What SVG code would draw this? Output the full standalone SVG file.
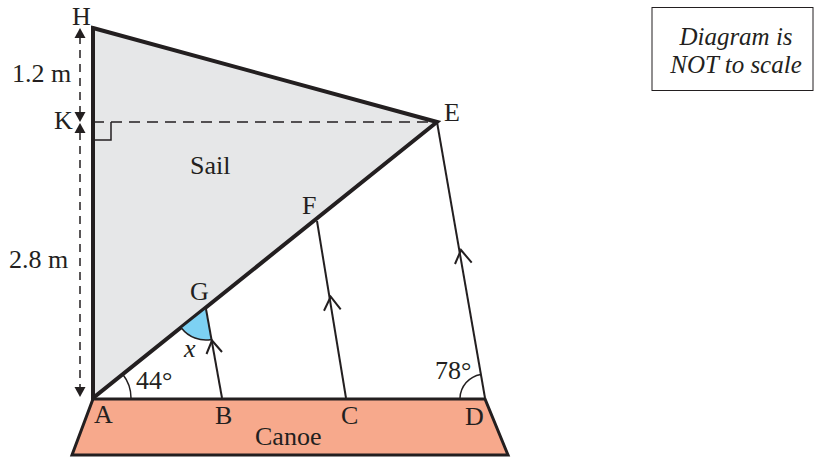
<svg xmlns="http://www.w3.org/2000/svg" width="814" height="457" viewBox="0 0 814 457">
<style>
  text { font-family: "Liberation Serif", "Times New Roman", serif; font-size: 26px; fill: #231F20; }
  .it { font-style: italic; }
  .note { font-style: italic; font-size: 25px; text-anchor: middle; }
  .thick { stroke: #231F20; stroke-width: 4; fill: none; stroke-linejoin: miter; }
  .thin { stroke: #231F20; stroke-width: 2; fill: none; }
  .dash { stroke: #231F20; stroke-width: 1.5; fill: none; }
  .chev { stroke: #231F20; stroke-width: 2; fill: none; stroke-linejoin: miter; }
  .head { fill: #231F20; }
</style>
<rect width="814" height="457" fill="#ffffff"/>

<g id="sail">
  <polygon points="93,28 437,122 93,398" fill="#E6E7E8"/>
  <line class="dash" x1="93" y1="122" x2="437" y2="122" stroke-dasharray="11,7"/>
  <polyline class="dash" points="93,140 111,140 111,122" />
  <polygon class="thick" points="93,28 437,122 93,398"/>
  <text x="190" y="174">Sail</text>
</g>

<g id="dimension">
  <line class="dash" x1="80" y1="36" x2="80" y2="114" stroke-dasharray="8,6"/>
  <line class="dash" x1="80" y1="132" x2="80" y2="388" stroke-dasharray="8,6"/>
  <polygon class="head" points="80,28 74.5,38 85.5,38"/>
  <polygon class="head" points="80,122 74.5,112 85.5,112"/>
  <polygon class="head" points="80,123 74.5,133 85.5,133"/>
  <polygon class="head" points="80,397 74.5,387 85.5,387"/>
  <text x="12" y="82">1.2 m</text>
  <text x="9" y="268">2.8 m</text>
</g>

<g id="canoe">
  <polygon points="93,399 485,399 508,455 72,455" fill="#F7A98C" stroke="#231F20" stroke-width="3" stroke-linejoin="miter"/>
  <text x="255" y="445">Canoe</text>
</g>

<g id="angle-x">
  <path d="M206,309 L181.6,328.2 A31,31 0 0 0 211.5,339.5 Z" fill="#7DD1F3"/>
  <path d="M181.6,328.2 A31,31 0 0 0 211.5,339.5" class="dash"/>
  <text class="it" x="184" y="357">x</text>
</g>

<g id="connectors">
  <line class="thin" x1="222" y1="398" x2="206" y2="309"/>
  <line class="thin" x1="346" y1="398" x2="317" y2="221"/>
  <line class="thin" x1="485" y1="398" x2="437" y2="122"/>
  <polyline class="chev" points="206.5,354 212,340.5 222,352"/>
  <polyline class="chev" points="324,310.7 330.7,296.7 340.7,309.3"/>
  <polyline class="chev" points="455,264 461,250 471.7,262.7"/>
  <path class="dash" d="M131,398 A38,38 0 0 0 122.7,374.2"/>
  <path class="dash" d="M460,398 A25,25 0 0 1 480.7,374.4"/>
</g>

<g id="labels">
  <text x="72" y="25">H</text>
  <text x="54" y="129">K</text>
  <text x="444" y="121">E</text>
  <text x="302" y="214">F</text>
  <text x="190" y="300">G</text>
  <text x="136" y="389">44°</text>
  <text x="435" y="379">78°</text>
  <text x="94" y="423">A</text>
  <text x="215" y="424">B</text>
  <text x="341" y="424">C</text>
  <text x="465" y="425">D</text>
</g>

<g id="note">
  <rect x="652" y="7.5" width="161" height="83" fill="none" stroke="#231F20" stroke-width="1"/>
  <text class="note" x="736" y="45">Diagram is</text>
  <text class="note" x="736" y="73">NOT to scale</text>
</g>
</svg>
